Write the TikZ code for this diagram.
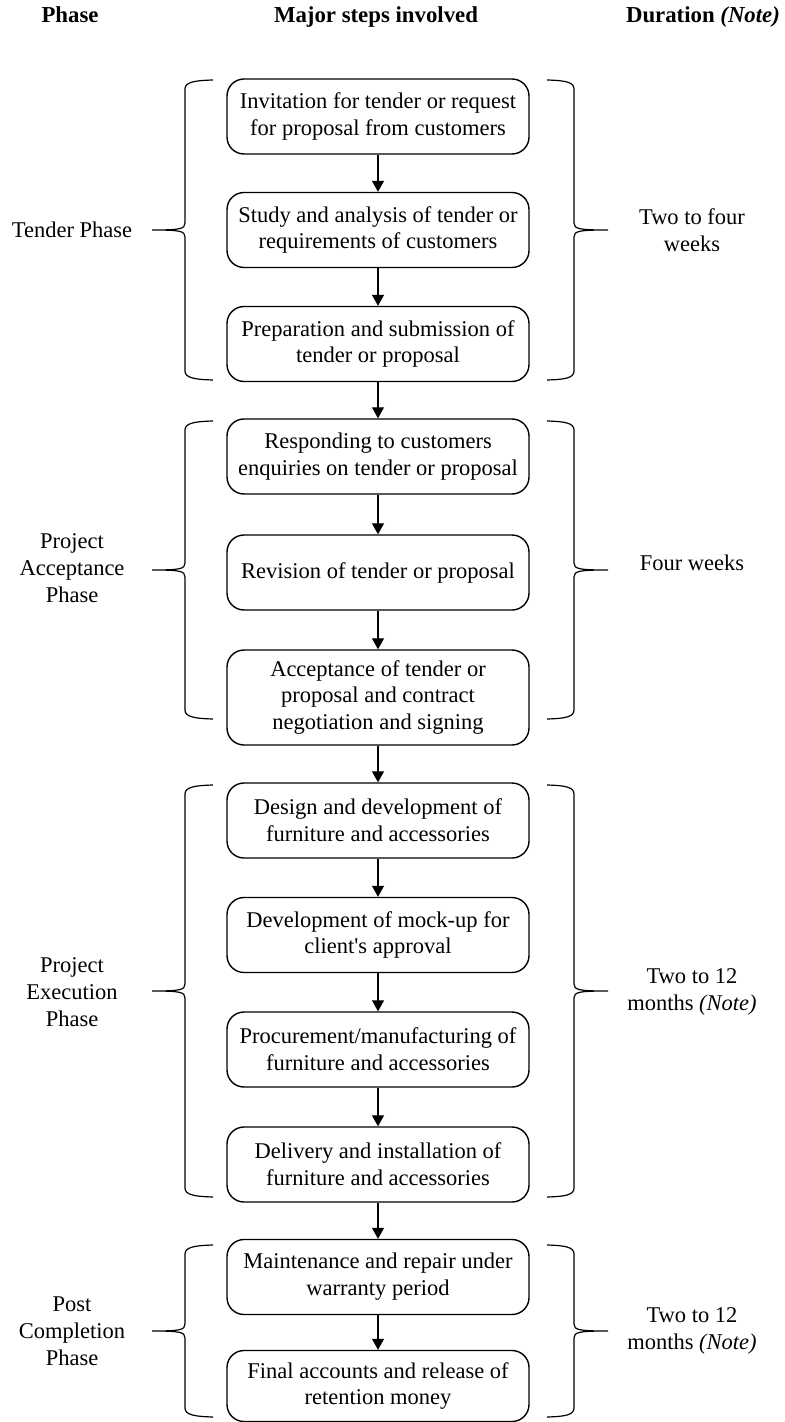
\documentclass[tikz,border=0pt]{standalone}
\usepackage{fontspec}
\setmainfont{Liberation Serif}
\usetikzlibrary{arrows.meta}

\tikzset{
  stepbox/.style={draw, line width=0.7pt, rounded corners=8.5pt, align=center,
    minimum width=151pt, minimum height=37.5pt, inner sep=2pt},
  sidetext/.style={align=center},
  headtext/.style={font=\fontsize{11.4}{14}\selectfont\bfseries, anchor=base},
  steparrow/.style={line width=0.6pt, -{Triangle[length=5.5pt,width=6pt]}},
  bracket/.style={line width=0.6pt}
}

\begin{document}
\begin{tikzpicture}[x=0.5pt, y=-0.5pt, font=\fontsize{11.25}{13.4}\selectfont]
\useasboundingbox (0,0) rectangle (784,1422);

% headings
\node[headtext] (hphase) at (70,23) {Phase};
\node[headtext] (hsteps) at (376,23) {Major steps involved};
\node[headtext] (hduration) at (703,23) {Duration \textit{(Note)}};

% major steps
\node[stepbox] (invite) at (378,116.5) {Invitation for tender or request\\for proposal from customers};
\node[stepbox] (study) at (378,230) {Study and analysis of tender or\\requirements of customers};
\node[stepbox] (prepare) at (378,344) {Preparation and submission of\\tender or proposal};
\node[stepbox] (respond) at (378,456.5) {Responding to customers\\enquiries on tender or proposal};
\node[stepbox] (revise) at (378,572.5) {Revision of tender or proposal};
\node[stepbox, minimum height=47.5pt] (accept) at (378,697.5) {Acceptance of tender or\\proposal and contract\\negotiation and signing};
\node[stepbox] (design) at (378,820.5) {Design and development of\\furniture and accessories};
\node[stepbox] (mockup) at (378,935) {Development of mock-up for\\client\textquotesingle s approval};
\node[stepbox] (procure) at (378,1049.5) {Procurement/manufacturing of\\furniture and accessories};
\node[stepbox] (deliver) at (378,1164.5) {Delivery and installation of\\furniture and accessories};
\node[stepbox] (maintain) at (378,1277) {Maintenance and repair under\\warranty period};
\node[stepbox, minimum height=35.5pt] (final) at (378,1386) {Final accounts and release of\\retention money};

\foreach \a/\b in {invite/study, study/prepare, prepare/respond, respond/revise,
  revise/accept, accept/design, design/mockup, mockup/procure, procure/deliver,
  deliver/maintain, maintain/final}
  \draw[steparrow] (\a) -- (\b);

% braces, left and right
\foreach \t/\m/\b in {80/230/380, 421/570/719, 785/991/1197, 1245/1331/1417} {
  \draw[bracket] (213,\t) .. controls (195,\t+0.5) and (185,\t+2) .. (185,\t+9)
    -- (185,\m-7) .. controls (185,\m-1) and (180,\m) .. (152,\m)
    .. controls (180,\m) and (185,\m+1) .. (185,\m+7)
    -- (185,\b-9) .. controls (185,\b-2) and (195,\b-0.5) .. (213,\b);
  \draw[bracket] (547,\t) .. controls (565,\t+0.5) and (574,\t+2) .. (574,\t+9)
    -- (574,\m-7) .. controls (574,\m-1) and (579,\m) .. (608,\m)
    .. controls (579,\m) and (574,\m+1) .. (574,\m+7)
    -- (574,\b-9) .. controls (574,\b-2) and (565,\b-0.5) .. (547,\b);
}

% phases
\node[sidetext] (tender) at (72,230) {Tender Phase};
\node[sidetext] (acceptance) at (72,568) {Project\\Acceptance\\Phase};
\node[sidetext] (execution) at (72,992) {Project\\Execution\\Phase};
\node[sidetext] (post) at (72,1331) {Post\\Completion\\Phase};

% durations
\node[sidetext] (dtender) at (692,230) {Two to four\\weeks};
\node[sidetext] (dacceptance) at (692,563) {Four weeks};
\node[sidetext] (dexecution) at (692,992) {Two to 12\\months \textit{(Note)}};
\node[sidetext] (dpost) at (692,1331) {Two to 12\\months \textit{(Note)}};
\end{tikzpicture}
\end{document}
